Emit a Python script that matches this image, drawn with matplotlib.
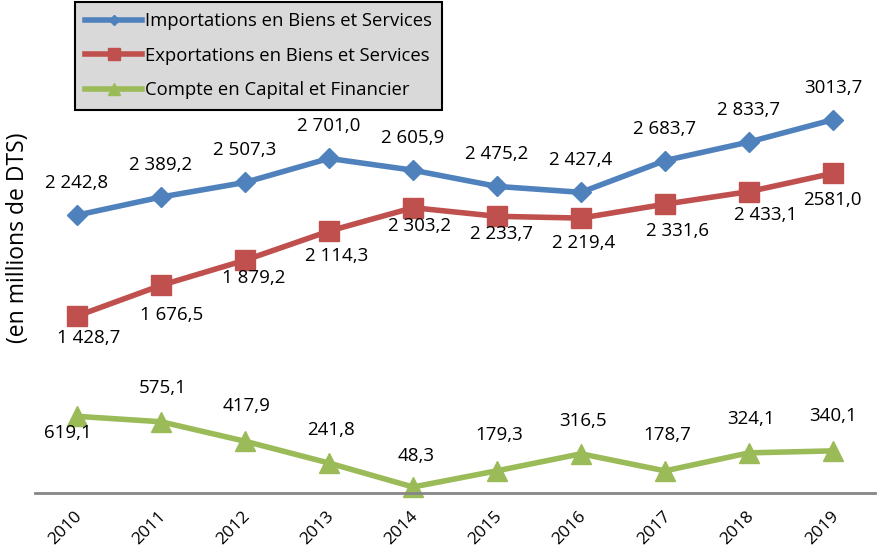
import matplotlib
matplotlib.use("Agg")
import matplotlib.pyplot as plt
from matplotlib.transforms import ScaledTranslation

plt.rcParams['font.family'] = ['Open Sans', 'DejaVu Sans']

years = ['2010', '2011', '2012', '2013', '2014', '2015', '2016', '2017', '2018', '2019']
importations = [2242.8, 2389.2, 2507.3, 2701.0, 2605.9, 2475.2, 2427.4, 2683.7, 2833.7, 3013.7]
exportations = [1428.7, 1676.5, 1879.2, 2114.3, 2303.2, 2233.7, 2219.4, 2331.6, 2433.1, 2581.0]
capital = [619.1, 575.1, 417.9, 241.8, 48.3, 179.3, 316.5, 178.7, 324.1, 340.1]

# label offsets in pixels (dx, dy)
imp_off = [(0, 32)] * 10
exp_off = [(12, -22), (11, -30), (9, -18), (8, -25), (7, -18),
           (4, -18), (3, -25), (13, -27), (17, -23), (-1, -27)]
cap_off = [(-9, -17), (2, 34), (2, 35), (2, 33), (3, 31),
           (2, 36), (2, 33), (2, 36), (2, 34), (0, 35)]


def fmt(v, grouped=True):
    s = f"{v:,.1f}" if grouped else f"{v:.1f}"
    return s.replace(",", " ").replace(".", ",")


fig = plt.figure(figsize=(8.82, 5.53), dpi=100)
ax = fig.add_axes([35 / 882, 1 - 493 / 553, 840 / 882, 493 / 553])

x = list(range(len(years)))
series = [
    (importations, 'Importations en Biens et Services', '#4F81BD', 'D', 10, imp_off),
    (exportations, 'Exportations en Biens et Services', '#C0504D', 's', 14.5, exp_off),
    (capital, 'Compte en Capital et Financier', '#9BBB59', '^', 14.5, cap_off),
]
for vals, name, col, mk, ms, offs in series:
    ax.plot(x, vals, color=col, lw=4, marker=mk, markersize=ms, label=name, clip_on=False)
    for i, v in enumerate(vals):
        # the last import/export labels have no thousands space in the original
        grouped = not (i == 9 and name[0] in 'IE')
        ax.annotate(fmt(v, grouped), (i, v), xytext=offs[i], textcoords='offset pixels',
                    ha='center', va='center', fontsize=13.5, color='black')

ax.set_xlim(-0.5, 9.5)
ax.set_ylim(0, 3980)
ax.set_yticks([])
for s in ['top', 'right', 'left']:
    ax.spines[s].set_visible(False)
ax.spines['bottom'].set_color('#868686')
ax.spines['bottom'].set_linewidth(2)
ax.set_xticks(x)
ax.set_xticklabels(years, rotation=45, ha='right', va='center', rotation_mode='anchor', fontsize=12.5)
ax.tick_params(axis='x', length=0, pad=15)
shift = ScaledTranslation(3 / 100, 0, fig.dpi_scale_trans)
for lab in ax.get_xticklabels():
    lab.set_transform(lab.get_transform() + shift)

fig.text(18 / 882, 1 - 238 / 553, '(en millions de DTS)', rotation=90, ha='center', va='center', fontsize=16.5)

leg = fig.legend(loc='upper left', bbox_to_anchor=(75 / 882, 1 - 2 / 553), fontsize=13.3,
                 handlelength=3.1, handletextpad=0.15, labelspacing=0.9, markerscale=0.55,
                 fancybox=False, framealpha=1, borderpad=0.55, borderaxespad=0)
leg.get_frame().set_facecolor('#D9D9D9')
leg.get_frame().set_edgecolor('black')
leg.get_frame().set_linewidth(1.5)

fig.savefig('out.png', dpi=100)
